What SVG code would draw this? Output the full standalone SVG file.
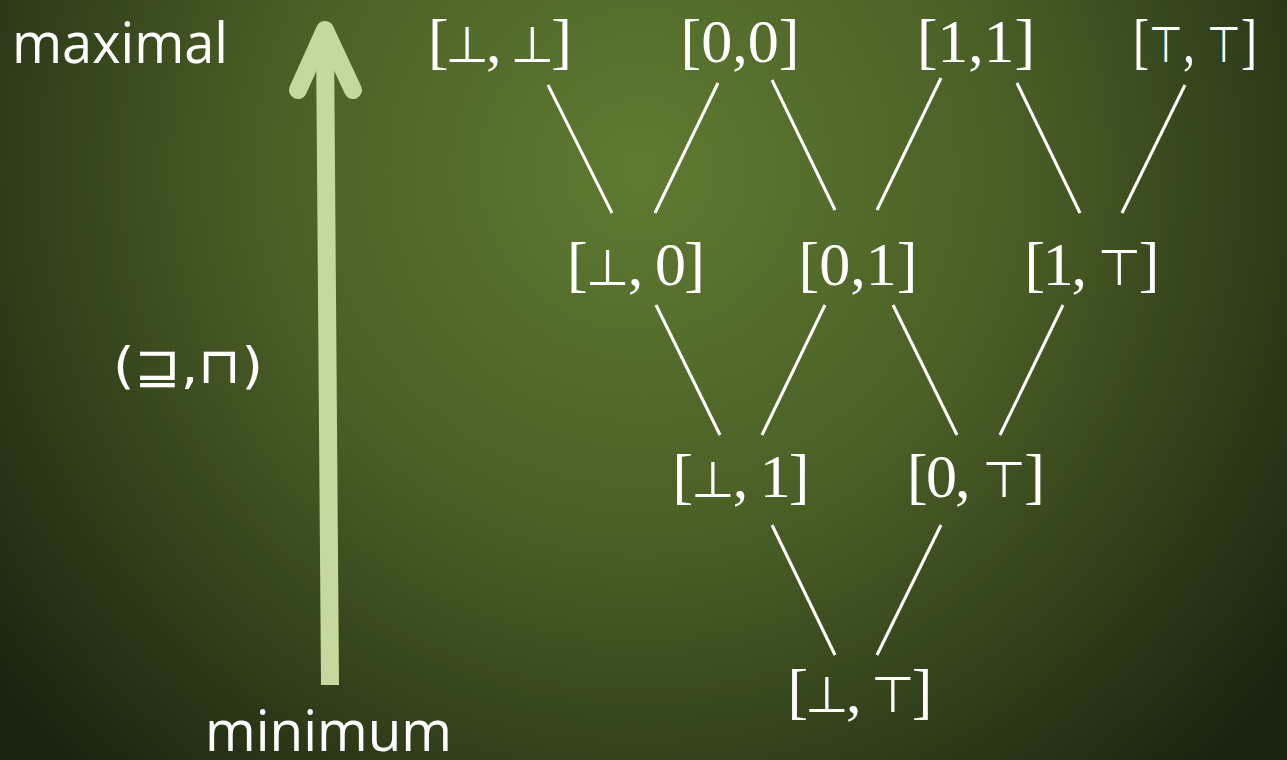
<svg xmlns="http://www.w3.org/2000/svg" width="1287" height="760" viewBox="0 0 1287 760">
<defs>
<radialGradient id="bg" gradientUnits="userSpaceOnUse" cx="640" cy="170" r="820">
<stop offset="0" stop-color="#5f7a31"/>
<stop offset="0.45" stop-color="#4a5f26"/>
<stop offset="1" stop-color="#1b2410"/>
</radialGradient>
<style>
.lbl{font-family:"Liberation Serif","DejaVu Serif",serif;font-size:62px;fill:#fff;text-anchor:middle}
.sym{font-family:"DejaVu Sans",sans-serif;font-size:50px}
.sans{font-family:"Open Sans","DejaVu Sans",sans-serif;font-size:56px;fill:#fff}
.edge{stroke:#fff;stroke-width:3;fill:none}
.arrow{stroke:#c5d89e;stroke-width:18;fill:none;stroke-linecap:round;stroke-linejoin:round}
</style>
</defs>
<rect width="1287" height="760" fill="url(#bg)"/>
<g id="legend">
<text class="sans" x="12" y="63" textLength="216" lengthAdjust="spacingAndGlyphs">maximal</text>
<text class="sans" x="205" y="751" textLength="247" lengthAdjust="spacingAndGlyphs">minimum</text>
<text class="sans" x="113" y="383" style="font-family:'DejaVu Sans',sans-serif;font-size:50px" textLength="150" lengthAdjust="spacingAndGlyphs">(⊒,⊓)</text>
<path class="arrow" d="M330 685 L325 36" style="stroke-linecap:butt"/>
<path class="arrow" d="M298 90 L325 30 L353 90"/>
</g>
<g id="connectors">
<line class="edge" x1="548" y1="85" x2="612" y2="213"/>
<line class="edge" x1="718" y1="83" x2="655" y2="213"/>
<line class="edge" x1="772" y1="80" x2="835" y2="210"/>
<line class="edge" x1="941" y1="78" x2="877" y2="210"/>
<line class="edge" x1="1017" y1="83" x2="1080" y2="213"/>
<line class="edge" x1="1185" y1="85" x2="1122" y2="213"/>
<line class="edge" x1="656" y1="305" x2="720" y2="435"/>
<line class="edge" x1="825" y1="305" x2="762" y2="435"/>
<line class="edge" x1="893" y1="305" x2="957" y2="435"/>
<line class="edge" x1="1063" y1="305" x2="1000" y2="435"/>
<line class="edge" x1="772" y1="525" x2="835" y2="655"/>
<line class="edge" x1="941" y1="525" x2="877" y2="655"/>
</g>
<g id="n-bb"><text class="lbl" x="500" y="62" textLength="144" lengthAdjust="spacing">[<tspan class="sym">⊥</tspan>, <tspan class="sym">⊥</tspan>]</text></g>
<g id="n-00"><text class="lbl" x="740" y="62" textLength="119" lengthAdjust="spacingAndGlyphs">[0,0]</text></g>
<g id="n-11"><text class="lbl" x="976" y="62" textLength="118" lengthAdjust="spacingAndGlyphs">[1,1]</text></g>
<g id="n-tt"><text class="lbl" x="1195" y="62" textLength="124" lengthAdjust="spacingAndGlyphs">[<tspan class="sym">⊤</tspan>, <tspan class="sym">⊤</tspan>]</text></g>
<g id="n-b0"><text class="lbl" x="636" y="285" textLength="138" lengthAdjust="spacing">[<tspan class="sym">⊥</tspan>, 0]</text></g>
<g id="n-01"><text class="lbl" x="858" y="285" textLength="119" lengthAdjust="spacingAndGlyphs">[0,1]</text></g>
<g id="n-1t"><text class="lbl" x="1092" y="285" textLength="135" lengthAdjust="spacing">[1, <tspan class="sym">⊤</tspan>]</text></g>
<g id="n-b1"><text class="lbl" x="741" y="497" textLength="137" lengthAdjust="spacing">[<tspan class="sym">⊥</tspan>, 1]</text></g>
<g id="n-0t"><text class="lbl" x="976" y="497" textLength="138" lengthAdjust="spacing">[0, <tspan class="sym">⊤</tspan>]</text></g>
<g id="n-bt"><text class="lbl" x="860" y="712" textLength="145" lengthAdjust="spacing">[<tspan class="sym">⊥</tspan>, <tspan class="sym">⊤</tspan>]</text></g>
</svg>
